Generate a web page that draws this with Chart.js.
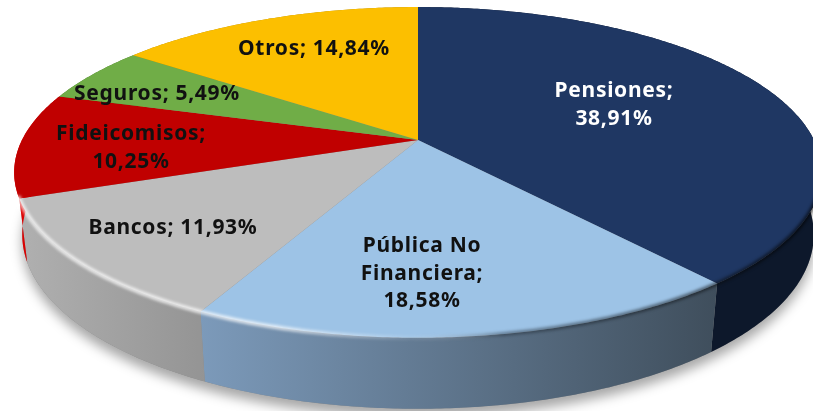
<!DOCTYPE html>
<html lang="es">
<head>
    <meta charset="UTF-8">
    <title>Pie 3D</title>
    <script src="https://cdn.jsdelivr.net/npm/chart.js@4/dist/chart.umd.min.js"></script>
    <style>
        html, body { margin: 0; padding: 0; background: #fff; overflow: hidden; }
        canvas { display: block; }
    </style>
</head>
<body>
    <canvas id="myChart" width="813" height="411"></canvas>
    <script>
        // data
        const categories = ['Pensiones', 'Pública No Financiera', 'Bancos', 'Fideicomisos', 'Seguros', 'Otros'];
        const values = [38.91, 18.58, 11.93, 10.25, 5.49, 14.84];
        const labelLines = [
            ['Pensiones;', '38,91%'],
            ['Pública No', 'Financiera;', '18,58%'],
            ['Bancos; 11,93%'],
            ['Fideicomisos;', '10,25%'],
            ['Seguros; 5,49%'],
            ['Otros; 14,84%']
        ];
        const labelCenters = [[614, 105], [422, 274], [173, 228], [131, 148], [157, 94], [314, 49]];
        const labelColors = ['#fff', '#111', '#111', '#111', '#111', '#111'];
        const topColors = ['#1f3763', '#9dc3e6', '#bdbdbd', '#c00000', '#70ad47', '#fcbf00'];
        // wall gradient stops, left to right
        const wallColors = [
            ['#0d182b', '#0d182b'],
            ['#7c9aba', '#3f4e5c'],
            ['#b0b0b0', '#949494'],
            ['#e80000', '#a80000'],
            ['#4f7a32', '#4f7a32'],
            ['#b08500', '#b08500']
        ];

        // the pie is tilted in perspective, so the pivot sits above the ellipse center
        const cx = 418, cy = 140, A = 396, B = 159, k = 0.196;
        const project = (t) => {
            const u = Math.sin(t), v = -Math.cos(t), d = 1 - k * v;
            return { x: cx + A * u / d, y: cy + B * v / d, v };
        };
        const projectBottom = (t) => {
            const p = project(t);
            return { x: cx + (p.x - cx) * 0.98, y: p.y + 60 + 11 * p.v };
        };
        const rim = (t0, t1, fn) => {
            const n = Math.max(2, Math.ceil(Math.abs(t1 - t0) / 0.01));
            const pts = [];
            for (let i = 0; i <= n; i++) pts.push(fn(t0 + (t1 - t0) * i / n));
            return pts;
        };
        const trace = (ctx, pts, first) => {
            pts.forEach((p, i) => (i === 0 && first) ? ctx.moveTo(p.x, p.y) : ctx.lineTo(p.x, p.y));
        };

        const pie3d = {
            id: 'pie3d',
            beforeDatasetDraw(chart) {
                const ctx = chart.ctx;
                const arcs = chart.getDatasetMeta(0).data;
                const angles = arcs.map(a => [a.startAngle + Math.PI / 2, a.endAngle + Math.PI / 2]);

                // soft shadow under the pie
                ctx.save();
                ctx.shadowColor = 'rgba(0,0,0,0.35)';
                ctx.shadowBlur = 12;
                ctx.shadowOffsetY = 8;
                ctx.fillStyle = '#888';
                ctx.beginPath();
                trace(ctx, rim(0, Math.PI * 2, projectBottom), true);
                ctx.closePath();
                ctx.fill();
                ctx.restore();

                // side walls
                angles.forEach(([a0, a1], i) => {
                    const top = rim(a0, a1, project);
                    const bottom = rim(a1, a0, projectBottom);
                    const xs = top.concat(bottom).map(p => p.x);
                    const g = ctx.createLinearGradient(Math.min(...xs), 0, Math.max(...xs), 0);
                    g.addColorStop(0, wallColors[i][0]);
                    g.addColorStop(1, wallColors[i][1]);
                    ctx.fillStyle = g;
                    ctx.beginPath();
                    trace(ctx, top, true);
                    trace(ctx, bottom, false);
                    ctx.closePath();
                    ctx.fill();
                });

                // top faces
                angles.forEach(([a0, a1], i) => {
                    ctx.fillStyle = topColors[i];
                    ctx.beginPath();
                    ctx.moveTo(cx, cy);
                    trace(ctx, rim(a0, a1, project), false);
                    ctx.closePath();
                    ctx.fill();
                });

                // bevel along the front rim: light on the left, dark on the right
                const front = rim(Math.PI * 0.58, Math.PI * 1.39, project);
                const bevel = ctx.createLinearGradient(20, 0, 800, 0);
                bevel.addColorStop(0, 'rgba(255,255,255,0.75)');
                bevel.addColorStop(0.32, 'rgba(255,255,255,0.75)');
                bevel.addColorStop(0.5, 'rgba(255,255,255,0.1)');
                bevel.addColorStop(0.62, 'rgba(30,40,50,0.45)');
                bevel.addColorStop(1, 'rgba(0,0,0,0.6)');
                ctx.save();
                ctx.strokeStyle = bevel;
                ctx.lineCap = 'round';
                ctx.lineJoin = 'round';
                ctx.filter = 'blur(1.5px)';
                ctx.lineWidth = 4;
                ctx.beginPath();
                trace(ctx, front, true);
                ctx.stroke();
                ctx.restore();
                return false;
            },
            afterDraw(chart) {
                const ctx = chart.ctx;
                ctx.save();
                ctx.font = 'bold 21px "Noto Sans"';
                ctx.letterSpacing = '0.7px';
                ctx.textAlign = 'center';
                ctx.textBaseline = 'middle';
                labelLines.forEach((lines, i) => {
                    ctx.fillStyle = labelColors[i];
                    lines.forEach((line, j) => {
                        const y = labelCenters[i][1] + (j - (lines.length - 1) / 2) * 27.5;
                        ctx.fillText(line, labelCenters[i][0], y);
                    });
                });
                ctx.restore();
            }
        };

        new Chart(document.getElementById('myChart'), {
            type: 'pie',
            data: {
                labels: categories,
                datasets: [{ data: values, backgroundColor: topColors, borderWidth: 0 }]
            },
            options: {
                responsive: false,
                animation: false,
                plugins: { legend: { display: false }, tooltip: { enabled: false } }
            },
            plugins: [pie3d]
        });
    </script>
</body>
</html>
